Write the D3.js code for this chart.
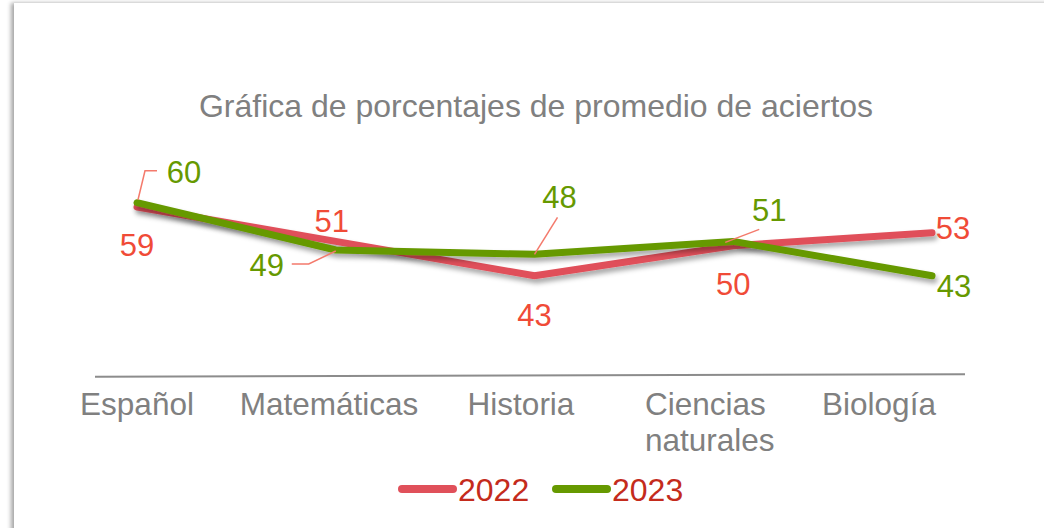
<!DOCTYPE html>
<html>
<head>
<meta charset="utf-8">
<script src="https://cdn.jsdelivr.net/npm/d3@7"></script>
<style>
  html, body { margin: 0; padding: 0; background: #fff; }
  svg { display: block; font-family: "Liberation Sans", Arial, sans-serif; }
</style>
</head>
<body>
<svg id="chart" width="1044" height="528"></svg>
<script>
// data
var categories = ['Español', 'Matemáticas', 'Historia', 'Ciencias naturales', 'Biología'];
var years = ['2022', '2023'];
var values2022 = [59, 51, 43, 50, 53];
var values2023 = [60, 49, 48, 51, 43];

// label placement (offsets from the point, px)
var labelOffsets2022 = [[0, 38], [-4, -21], [0, 39], [0, 38], [21, -5]];
var labelOffsets2023 = [[47, -31], [-69, 15], [25, -57], [36, -32], [22, 10]];
// leader lines for 2023 labels (relative to point)
var leaders2023 = [
    [[1, -3], [8, -32], [20, -32]],
    [[0, 1], [-27, 14], [-44, 14]],
    [[0, 0], [23, -37]],
    [[-8, 1], [26, -12]],
    null
];

var colors = { '2022': '#e0505a', '2023': '#669900' };
var labelColors = { '2022': '#f04b37', '2023': '#669900' };

var svg = d3.select('#chart');
var width = +svg.attr('width');
var height = +svg.attr('height');

// card + shadow
var defs = svg.append('defs');
var cardShadow = defs.append('filter').attr('id', 'cardShadow')
    .attr('x', '-5%').attr('y', '-5%').attr('width', '110%').attr('height', '110%');
cardShadow.append('feDropShadow').attr('dx', -3).attr('dy', 0)
    .attr('stdDeviation', 2).attr('flood-color', '#000').attr('flood-opacity', 0.35);

var lineShadow = defs.append('filter').attr('id', 'lineShadow')
    .attr('x', '-10%').attr('y', '-50%').attr('width', '120%').attr('height', '200%');
lineShadow.append('feDropShadow').attr('dx', 2).attr('dy', 4)
    .attr('stdDeviation', 2.5).attr('flood-color', '#000').attr('flood-opacity', 0.35);

svg.append('rect')
    .attr('x', 14).attr('y', 3)
    .attr('width', width + 20).attr('height', height + 20)
    .attr('fill', '#fff')
    .style('filter', 'url(#cardShadow)');

// title
svg.append('text')
    .attr('x', 536).attr('y', 117)
    .attr('text-anchor', 'middle')
    .attr('fill', '#808080')
    .style('font-size', '32px')
    .text('Gráfica de porcentajes de promedio de aciertos');

// scales
var x = d3.scalePoint().domain(categories).range([137, 932]);
var y = d3.scaleLinear().domain([20, 70]).range([374.7, 159.7]);
var xLabel = d3.scalePoint().domain(categories).range([137, 905]);

// axis line
svg.append('line')
    .attr('x1', 95).attr('x2', 965)
    .attr('y1', y(20) + 2).attr('y2', y(20) - 0.5)
    .attr('stroke', '#8c8c8c').attr('stroke-width', 2);

// category labels
var catG = svg.append('g').attr('class', 'categories');
categories.forEach(function (c, i) {
    var words = c.split(' ');
    var t = catG.append('text')
        .attr('fill', '#808080')
        .style('font-size', '31.5px');
    var last = i === categories.length - 1;
    if (words.length > 1) {
        // wrapped label, left aligned like the original
        t.attr('x', xLabel(c) - 68).attr('y', 415);
        words.forEach(function (w, j) {
            t.append('tspan').attr('x', xLabel(c) - 68).attr('dy', j === 0 ? 0 : 36).text(w);
        });
    } else {
        t.attr('x', last ? xLabel(c) - 26 : xLabel(c)).attr('y', 415)
            .attr('text-anchor', 'middle').text(c);
    }
});

// lines
var line = d3.line()
    .x(function (d, i) { return x(categories[i]); })
    .y(function (d) { return y(d); });

var series = [
    { year: '2022', values: values2022, offsets: labelOffsets2022, leaders: null },
    { year: '2023', values: values2023, offsets: labelOffsets2023, leaders: leaders2023 }
];

svg.append('g').selectAll('path')
    .data(series)
    .enter().append('path')
    .attr('d', function (s) { return line(s.values); })
    .attr('fill', 'none')
    .attr('stroke', function (s) { return colors[s.year]; })
    .attr('stroke-width', 7)
    .attr('stroke-linecap', 'round')
    .attr('stroke-linejoin', 'round')
    .style('filter', 'url(#lineShadow)');

// leader lines
var leaderG = svg.append('g');
series.forEach(function (s) {
    if (!s.leaders) return;
    s.leaders.forEach(function (pts, i) {
        if (!pts) return;
        var px = x(categories[i]);
        var py = y(s.values[i]);
        leaderG.append('polyline')
            .attr('points', pts.map(function (p) { return (px + p[0]) + ',' + (py + p[1]); }).join(' '))
            .attr('fill', 'none')
            .attr('stroke', '#f47a6c')
            .attr('stroke-width', 1.5);
    });
});

// data labels
var labelG = svg.append('g');
series.forEach(function (s) {
    s.values.forEach(function (v, i) {
        var o = s.offsets[i];
        labelG.append('text')
            .attr('x', x(categories[i]) + o[0])
            .attr('y', y(v) + o[1])
            .attr('dy', '0.36em')
            .attr('text-anchor', 'middle')
            .attr('fill', labelColors[s.year])
            .style('font-size', '31px')
            .text(v);
    });
});

// legend
var legend = svg.append('g').attr('transform', 'translate(402,489)');
years.forEach(function (yr, i) {
    var g = legend.append('g').attr('transform', 'translate(' + (i * 154) + ',0)');
    g.append('line')
        .attr('x1', 0).attr('x2', 51)
        .attr('stroke', colors[yr]).attr('stroke-width', 8)
        .attr('stroke-linecap', 'round');
    g.append('text')
        .attr('x', 56).attr('y', 0).attr('dy', '0.36em')
        .attr('fill', '#c42b1c')
        .style('font-size', '32px')
        .text(yr);
});
</script>
</body>
</html>
